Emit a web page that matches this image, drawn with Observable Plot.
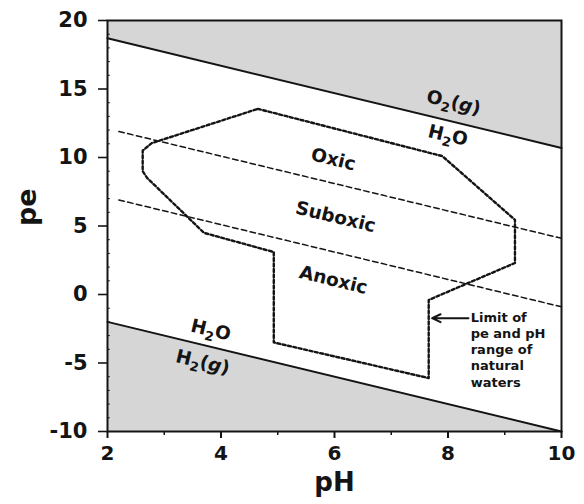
<!DOCTYPE html>
<html>
<head>
<meta charset="utf-8">
<script src="https://cdn.jsdelivr.net/npm/d3@7"></script>
<script src="https://cdn.jsdelivr.net/npm/@observablehq/plot@0.6"></script>
<style>
  body { margin: 0; background: #fff; }
  #chart svg { display: block; }
</style>
</head>
<body>
<div id="chart"></div>
<script>
// Axis ticks
const phTicks = [2, 4, 6, 8, 10];
const peTicks = [-10, -5, 0, 5, 10, 15, 20];
const phMinor = [3, 5, 7, 9];
const peMinor = [-9, -8, -7, -6, -4, -3, -2, -1, 1, 2, 3, 4, 6, 7, 8, 9, 11, 12, 13, 14, 16, 17, 18, 19];

// Stability limits of water (solid lines)
const waterPH = [2, 10];
const o2Pe = [18.7, 10.7];   // O2(g) / H2O
const h2Pe = [-2, -10];      // H2O / H2(g)

// Redox zone boundaries (dashed lines)
const zonePH = [2.2, 10];
const oxicPe = [11.9, 4.1];     // oxic / suboxic
const anoxicPe = [6.9, -0.9];   // suboxic / anoxic

// Outline of pe-pH range of natural waters (dotted polygon)
const naturalPH = [4.65, 7.9, 9.18, 9.18, 7.66, 7.66, 4.93, 4.93, 3.7, 2.7, 2.62, 2.62, 2.78, 4.65];
const naturalPe = [13.55, 10.1, 5.45, 2.3, -0.4, -6.1, -3.5, 3.1, 4.5, 8.5, 9.0, 10.5, 11.05, 13.55];

// Region and species labels
const labelText = ["O2(g)", "H2O", "Oxic", "Suboxic", "Anoxic", "H2O", "H2(g)"];
const labelPH   = [8.1, 8.0, 5.98, 6.02, 5.98, 3.82, 3.68];
const labelPe   = [14.0, 11.6, 9.85, 5.65, 1.05, -2.6, -4.95];

// Annotation
const noteText = "Limit of\npe and pH\nrange of\nnatural\nwaters";
const notePH = 8.4;
const notePe = -1.73;
const arrowFromPH = 8.36;
const arrowToPH = 7.72;

const water = waterPH.map((x, i) => ({pH: x, o2: o2Pe[i], h2: h2Pe[i]}));
const zones = zonePH.map((x, i) => ({pH: x, oxic: oxicPe[i], anoxic: anoxicPe[i]}));
const natural = naturalPH.map((x, i) => ({pH: x, pe: naturalPe[i]}));
const labels = labelText.map((t, i) => ({text: t, pH: labelPH[i], pe: labelPe[i]}));

const ink = "#141414";
const shade = "#d6d6d6";

const plot = Plot.plot({
  width: 584,
  height: 504,
  marginLeft: 107,
  marginRight: 23,
  marginTop: 20,
  marginBottom: 73,
  style: {
    fontFamily: "'DejaVu Sans', sans-serif",
    fontWeight: "bold",
    color: ink,
    background: "#fff",
    overflow: "visible"
  },
  x: {domain: [2, 10]},
  y: {domain: [-10, 20]},
  marks: [
    // shaded fields outside water stability
    Plot.areaY(water, {x: "pH", y1: "o2", y2: 20, fill: shade}),
    Plot.areaY(water, {x: "pH", y1: -10, y2: "h2", fill: shade}),
    // water stability limits
    Plot.line(water, {x: "pH", y: "o2", stroke: ink, strokeWidth: 2}),
    Plot.line(water, {x: "pH", y: "h2", stroke: ink, strokeWidth: 2}),
    // redox zone boundaries
    Plot.line(zones, {x: "pH", y: "oxic", stroke: ink, strokeWidth: 1.5, strokeDasharray: "5.5,3.5"}),
    Plot.line(zones, {x: "pH", y: "anoxic", stroke: ink, strokeWidth: 1.5, strokeDasharray: "5.5,3.5"}),
    // natural waters envelope
    Plot.line(natural, {x: "pH", y: "pe", stroke: ink, strokeWidth: 2.4, strokeDasharray: "3,2.5"}),
    // labels
    Plot.text(labels, {x: "pH", y: "pe", text: "text", fontSize: 18.5, rotate: 13.5, fill: ink, className: "species"}),
    // annotation arrow and note
    Plot.arrow([0], {x1: arrowFromPH, x2: arrowToPH, y1: notePe, y2: notePe, stroke: ink, strokeWidth: 2, headLength: 7, headAngle: 50}),
    Plot.text([noteText], {x: notePH, y: notePe, textAnchor: "start", lineAnchor: "top", dy: -8, fontSize: 13, lineHeight: 1.25, fill: ink}),
    // minor ticks
    Plot.ruleX(phMinor, {x: d => d, y1: -10, y2: -10.3, stroke: ink, strokeWidth: 1.5}),
    Plot.ruleY(peMinor, {y: d => d, x1: 2, x2: 2.05, stroke: ink, strokeWidth: 1}),
    // frame and axes
    Plot.frame({stroke: ink, strokeWidth: 2}),
    Plot.axisX({ticks: phTicks, tickSize: 7, tickPadding: 7, fontSize: 20, tickFormat: d => String(d), label: null, strokeWidth: 2}),
    Plot.axisY({ticks: peTicks, tickSize: 9, tickPadding: 11, fontSize: 21, tickFormat: d => String(d), label: null, strokeWidth: 1.6}),
    Plot.text(["pH"], {frameAnchor: "bottom", dy: 59, fontSize: 26, fill: ink}),
    Plot.text(["pe"], {frameAnchor: "left", dx: -80, rotate: -90, fontSize: 27, fill: ink})
  ]
});

// chemical formulas: subscript digits and italic gas phase
plot.querySelectorAll("g.species text").forEach(t => {
  const s = t.textContent;
  const m = s.match(/^([A-Z])2(.*)$/);
  if (!m) return;
  const size = 18.5;
  let html = `${m[1]}<tspan dy="${size * 0.26}" font-size="${size * 0.7}">2</tspan>`;
  if (m[2] === "(g)") html += `<tspan dy="${-size * 0.26}">(</tspan><tspan font-style="italic">g</tspan>)`;
  else html += `<tspan dy="${-size * 0.26}">${m[2]}</tspan>`;
  t.innerHTML = html;
});

document.getElementById("chart").append(plot);
</script>
</body>
</html>
